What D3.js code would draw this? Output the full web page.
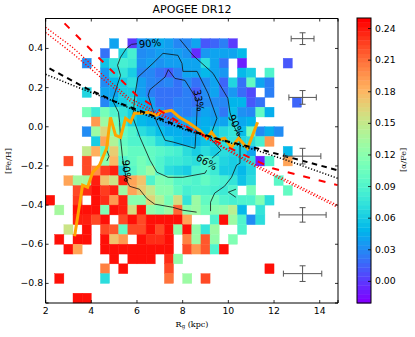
<!DOCTYPE html>
<html lang="en">

<head>
  <meta charset="UTF-8" />
  <title>APOGEE DR12</title>
  <script src="https://d3js.org/d3.v7.min.js"></script>
  <style>
    html, body { margin: 0; background: #fff; }
    svg { display: block; }
    text { font-family: "DejaVu Sans", sans-serif; fill: #000; }
    .serif { font-family: "DejaVu Serif", "Liberation Serif", serif; }
  </style>
</head>

<body>
  <svg id="chart" width="415" height="337"></svg>

  <script>
    const _ = null;
    // mean [a/Fe] per bin, one list per [Fe/H] row, index = R bin from 2 kpc in 0.4 steps
    const r040 = [_,_,_,_,_,_,_,.04,_,0,.033,.038,.043,.038,.028,.028,.04,.01,.015,.025,0];
    const r035 = [_,_,_,_,_,_,.02,_,.065,.085,.03,.033,.038,.038,.038,.033,-.005,.035,.04,.04,.04,.05];
    const r030 = [_,_,_,_,.03,_,.055,.075,.085,.08,.033,.038,.033,.038,.038,.04,.04,.07,.04,.02,_,-.01,_,_,_,_,.01];
    const r025 = [_,_,_,_,_,_,.035,.065,.075,.06,.028,.028,.02,.012,.025,.04,.04,.05,.04,.035,_,.05,.06,_,.09];
    const r020 = [_,_,_,_,_,_,.03,.05,.06,.07,.038,.028,.025,.028,.02,.03,.02,.03,.04,.015,.065,.02,.10,.04,.025];
    const r015 = [_,_,_,_,.065,_,.04,.04,.06,.06,.038,.025,.02,.02,.02,.025,.012,.03,.04,.02,.035,.018,.005,_,.025];
    const r010 = [_,_,_,_,_,_,.028,.05,.06,.07,.048,.038,.02,.02,.025,.025,.02,.03,.03,.028,.048,.048,.01,.02,_,_,_,.015];
    const r005 = [_,_,_,_,.11,.08,.11,.09,.075,.062,.05,.04,.033,.02,.028,.025,.03,.04,.035,.022,.052,.032,.028,.10,.045];
    const r000 = [_,_,_,_,_,.195,.13,.11,.08,.062,.05,.045,.04,.033,.038,.04,.04,.045,.04,.04,.062,.042,.048];
    const rm005 = [_,_,_,_,.03,.13,.165,.12,.10,.09,.07,.062,.052,.045,.045,.04,.04,.048,.058,.068,.075,.052,.11,.03,.045,.03];
    const rm010 = [_,_,_,_,_,.06,.19,.14,.10,.09,.09,.085,.068,.06,.05,.045,.045,.055,.06,.07,.075,.065,.07,.085,.195];
    const rm015 = [_,_,_,_,.15,.185,.10,.17,.11,.10,.10,.10,.095,.09,.085,.07,.06,.07,.06,.07,.065,.06,.04,_,_,_,.05];
    const rm020 = [_,_,.225,_,.225,_,.12,.18,.09,.10,.11,.10,.09,.08,.08,.075,.07,.09,.08,.065,.06,.06,.07,-.01,.09,_,.19];
    const rm025 = [_,_,_,_,.225,.20,.23,.24,.065,.095,.11,.13,.09,.07,.065,.06,.085,.09,.08,.06,.06,.05,.065];
    const rm030 = [_,_,.19,.135,.135,.24,.175,.155,.24,.19,.175,.09,.115,.11,.095,.095,.09,.10,.09,.085,.075,.055,.07,_,_,.095];
    const rm035 = [_,_,_,.225,.235,.245,.23,.24,.13,.19,.17,.15,.12,.12,.10,.085,.09,.09,.085,.08,.09,_,.11,_,_,_,.10];
    const rm040 = [.245,_,_,.23,_,.245,.235,.195,.24,.12,.12,.165,.14,.11,.16,.075,.13,.10,.105,.09,.085,.09,.09,.115,.07];
    const rm045 = [_,.135,_,.245,.245,.245,.115,.245,.24,.16,.245,.125,.115,.13,.215,.12,.13,.11,.12,.125,.145,.05,_,.075];
    const rm050 = [_,_,_,.24,.24,.225,.245,_,.225,.245,.225,.245,.245,.245,.245,.19,_,_,.09,.245,.13,.09,.03,.07];
    const rm055 = [_,_,.155,_,.245,_,.225,.22,.10,.225,.225,.245,.225,.245,.125,.245,.125,.075,.13,_,_,.09];
    const rm060 = [_,.245,_,.245,.245,_,.245,.175,.195,_,.245,.235,.235,.245,_,.205,.13,.22,.125,_,.115];
    const rm065 = [_,_,.245,.19,_,_,.245,.245,.245,.245,.245,.245,.245,.245,_,.225,.195,.22,.09,.245];
    const rm070 = [_,_,_,_,_,_,_,.245,_,.245,.245,.245,_,.235,.125];
    const rm075 = [_,_,_,_,_,_,.205,_,.245,_,_,_,_,.225,_,_,_,_,_,_,_,_,_,_,.245];
    const rm080 = [_,.245,_,_,_,_,.07,_,_,_,_,_,_,.21,_,.13,_,.225];
    const rm090 = [_,_,_,.245,.245];
    const rowLows = [.40,.35,.30,.25,.20,.15,.10,.05,0,-.05,-.10,-.15,-.20,-.25,-.30,-.35,-.40,-.45,-.50,-.55,-.60,-.65,-.70,-.75,-.80,-.90];
    const rowValues = [r040,r035,r030,r025,r020,r015,r010,r005,r000,rm005,rm010,rm015,rm020,rm025,rm030,rm035,rm040,rm045,rm050,rm055,rm060,rm065,rm070,rm075,rm080,rm090];

    // running median
    const medianLine = [[3.27,-.559],[3.62,-.298],[3.84,-.309],[4.06,-.232],[4.36,-.196],[4.45,-.171],[4.67,-.110],[4.84,.048],[5.06,-.043],[5.28,-.054],[5.50,.043],[5.72,.023],[5.89,.069],[6.20,.069],[6.46,.074],[6.86,.059],[7.08,.074],[7.51,.084],[7.86,.048],[8.30,.018],[8.74,-.018],[9.05,-.059],[9.26,-.028],[9.53,-.069],[9.83,-.059],[10.14,-.105],[10.45,-.059],[10.84,-.110],[11.28,.023]];

    // gradients
    const redDashed = [[2.83,.528],[4.36,.349],[5.98,.161],[6.99,.084],[8.30,-.008],[10.71,-.145],[11.93,-.212],[14.78,-.298]];
    const redDotted1 = [[2,.508],[3.18,.406],[4.67,.247],[5.68,.145],[8.30,-.008],[11.23,-.196],[14.78,-.401]];
    const redDotted2 = [[2,.482],[3.18,.375],[4.67,.227],[5.81,.120],[8.30,-.008],[11.23,-.206],[14.78,-.411]];
    const blackDashed = [[2.17,.298],[3.79,.196],[5.02,.130],[6.42,.069],[8.30,-.018],[9.75,-.069],[11.23,-.110],[12.68,-.156],[14.78,-.222]];
    const blackDotted = [[2,.268],[3.18,.212],[4.67,.145],[6.42,.059],[8.30,-.023],[11.23,-.120],[12.68,-.176],[14.78,-.263]];

    // density contours
    const contour90a = [[6.0,.424],[5.76,.421],[5.54,.401],[5.28,.355],[5.15,.314],[5.28,.263],[5.11,.202],[4.93,.135],[5.19,.074],[5.24,.023],[5.28,-.059],[5.37,-.161],[5.54,-.273],[5.68,-.304],[6.11,-.319],[6.42,-.365],[6.77,-.395],[7.56,-.411],[8.0,-.426],[8.61,-.436]];
    const contour90b = [[7.88,.446],[8.45,.365],[9.33,.273],[9.98,.145],[10.07,.074],[10.27,-.003],[10.51,-.054],[10.51,-.186],[10.36,-.196],[10.14,-.258],[9.83,-.304],[9.40,-.339],[9.22,-.385],[9.22,-.431]];
    const contour90c = [[10.33,-.319],[10.0,-.334],[10.33,-.360]];
    const contour90d = [[4.55,-.135],[4.68,-.120],[4.78,-.150],[4.68,-.175]];
    const contour66a = [[9.28,-.161],[9.68,-.120],[9.19,-.054],[9.50,.043],[9.11,.171],[8.63,.283],[8.01,.283],[7.97,.324],[7.79,.365],[7.14,.375],[6.70,.324],[6.04,.253],[5.91,.161],[5.82,.048],[6.13,-.054],[6.57,-.171],[6.87,-.232],[7.36,-.258],[8.01,-.258],[8.98,-.237],[9.05,-.222]];
    const contour33a = [[7.37,.292],[7.23,.254],[6.57,.190],[6.49,.161],[6.86,.024],[7.23,-.069],[7.58,-.078],[8.54,-.110],[8.61,.033],[8.65,.135],[8.10,.237],[7.66,.247],[7.37,.292]];

    const contourLabels = [["90%",6.57,.426,-5],["33%",8.71,.135,80],["90%",10.33,.008,65],["66%",9.05,-.18,30],["90%",5.55,-.225,85]];

    // binned error bars
    const errR = [13.25,13.25,13.25,13.25,13.25];
    const errFe = [.45,.15,-.15,-.45,-.75];
    const errDR = [.5,.6,.8,1.03,.84];
    const errDFe = [.03,.035,.04,.037,.04];

    const xTicks = [2,4,6,8,10,12,14];
    const yTicks = [-.8,-.6,-.4,-.2,0,.2,.4];
    const colorTicks = [0,.03,.06,.09,.12,.15,.18,.21,.24];

    const binWidth = 0.4, binHeight = 0.05;
    const plotLeft = 45.6, plotRight = 338, plotTop = 18.5, plotBottom = 303;

    const svg = d3.select("#chart");
    const x = d3.scaleLinear().domain([2, 14.8]).range([plotLeft, plotRight]);
    const y = d3.scaleLinear().domain([-.9, .553]).range([plotBottom, plotTop]);

    // matplotlib rainbow
    const rainbow = t => `rgb(${Math.round(255 * Math.abs(2 * t - .5))},${Math.round(255 * Math.sin(Math.PI * t))},${Math.round(255 * Math.cos(Math.PI * t / 2))})`;
    const colorNorm = d3.scaleLinear().domain([-.02, .25]).range([0, 1]).clamp(true);
    const color = v => rainbow(colorNorm(v));

    const cells = [];
    rowValues.forEach((row, j) => row.forEach((v, i) => {
      if (v !== null) cells.push({ r: 2 + i * binWidth, fe: rowLows[j], v });
    }));

    svg.append("g").selectAll("rect").data(cells).enter().append("rect")
      .attr("x", d => x(d.r))
      .attr("y", d => y(d.fe + binHeight))
      .attr("width", d => x(d.r + binWidth) - x(d.r))
      .attr("height", d => y(d.fe) - y(d.fe + binHeight))
      .attr("fill", d => color(d.v))
      .attr("stroke", d => color(d.v))
      .attr("stroke-width", .4);

    const line = d3.line().x(d => x(d[0])).y(d => y(d[1]));
    const plot = svg.append("g");

    function addLine(data, stroke, width, dash) {
      plot.append("path").attr("d", line(data))
        .attr("fill", "none").attr("stroke", stroke)
        .attr("stroke-width", width).attr("stroke-dasharray", dash || null);
    }

    [contour90a, contour90b, contour90c, contour90d, contour66a, contour33a].forEach(c => addLine(c, "#111", .8));
    addLine(medianLine, "#ffa500", 3);
    addLine(redDashed, "#ff0000", 2, "7,9");
    addLine(redDotted1, "#ff0000", 1.3, "1.2,1.8");
    addLine(redDotted2, "#ff0000", 1.3, "1.2,1.8");
    addLine(blackDashed, "#000", 2, "5.5,4.5");
    addLine(blackDotted, "#000", 1.5, "1.2,1.8");

    contourLabels.forEach(d => {
      plot.append("text")
        .attr("transform", `translate(${x(d[1])},${y(d[2])}) rotate(${d[3]})`)
        .attr("text-anchor", "middle").attr("dy", "0.35em")
        .attr("font-size", 10).attr("fill", "#111").text(d[0]);
    });

    // error bars
    const capX = 3, capY = 3;
    errR.forEach((r, i) => {
      const g = plot.append("g").attr("stroke", "#555").attr("stroke-width", 1).attr("fill", "none");
      const x0 = x(r - errDR[i]), x1 = x(r + errDR[i]), y0 = y(errFe[i] - errDFe[i]), y1 = y(errFe[i] + errDFe[i]);
      g.append("line").attr("x1", x0).attr("x2", x1).attr("y1", y(errFe[i])).attr("y2", y(errFe[i]));
      g.append("line").attr("x1", x(r)).attr("x2", x(r)).attr("y1", y0).attr("y2", y1);
      [x0, x1].forEach(px => g.append("line").attr("x1", px).attr("x2", px).attr("y1", y(errFe[i]) - capY).attr("y2", y(errFe[i]) + capY));
      [y0, y1].forEach(py => g.append("line").attr("x1", x(r) - capX).attr("x2", x(r) + capX).attr("y1", py).attr("y2", py));
    });

    // axes
    function styleAxis(g) {
      g.select(".domain").attr("stroke", "#000").attr("stroke-width", 1);
      g.selectAll(".tick line").attr("stroke", "#000").attr("stroke-width", .8);
      g.selectAll("text").attr("font-size", 9.3).attr("font-family", "DejaVu Sans");
    }
    const minusFmt = d => d3.format(".1f")(d).replace("-", "\u2212");

    svg.append("g").attr("transform", `translate(0,${plotBottom})`)
      .call(d3.axisBottom(x).offset(0).tickValues(xTicks).tickSize(-3).tickPadding(4).tickFormat(d3.format("d"))).call(styleAxis);
    svg.append("g").attr("transform", `translate(0,${plotTop})`)
      .call(d3.axisTop(x).offset(0).tickValues(xTicks).tickSize(-3).tickFormat("")).call(styleAxis);
    svg.append("g").attr("transform", `translate(${plotLeft},0)`)
      .call(d3.axisLeft(y).offset(0).tickValues(yTicks).tickSize(-3).tickPadding(2.5).tickFormat(minusFmt)).call(styleAxis);
    svg.append("g").attr("transform", `translate(${plotRight},0)`)
      .call(d3.axisRight(y).offset(0).tickValues(yTicks).tickSize(-3).tickFormat("")).call(styleAxis);

    svg.append("text").attr("x", 192).attr("y", 12.5).attr("text-anchor", "middle").attr("font-size", 11).text("APOGEE DR12");

    const xLabel = svg.append("text").attr("class", "serif").attr("x", 192).attr("y", 326.5).attr("text-anchor", "middle").attr("font-size", 8);
    xLabel.append("tspan").text("R");
    xLabel.append("tspan").attr("font-size", 5.5).attr("dy", 1.5).text("g");
    xLabel.append("tspan").attr("dy", -1.5).text(" (kpc)");

    svg.append("text").attr("class", "serif").attr("transform", `translate(10.5,161) rotate(-90)`)
      .attr("text-anchor", "middle").attr("font-size", 8).text("[Fe/H]");

    // colorbar
    const cbLeft = 357, cbRight = 371;
    const c = d3.scaleLinear().domain([-.0205, .25]).range([303, 18]);
    const levels = d3.range(0, 64);
    const levelH = (c.range()[0] - c.range()[1]) / levels.length;
    svg.append("g").selectAll("rect").data(levels).enter().append("rect")
      .attr("x", cbLeft).attr("width", cbRight - cbLeft)
      .attr("y", d => c.range()[0] - (d + 1) * levelH)
      .attr("height", levelH + .4)
      .attr("fill", d => rainbow(d / (levels.length - 1)));
    svg.append("g").attr("transform", `translate(${cbRight},0)`)
      .call(d3.axisRight(c).offset(0).tickValues(colorTicks).tickSize(-3).tickPadding(4).tickFormat(d3.format(".2f")))
      .call(g => g.select(".domain").remove())
      .call(styleAxis);
    svg.append("rect").attr("x", cbLeft).attr("y", 18).attr("width", cbRight - cbLeft).attr("height", 285)
      .attr("fill", "none").attr("stroke", "#000").attr("stroke-width", 1);

    svg.append("text").attr("class", "serif").attr("transform", "translate(406,160) rotate(-90)")
      .attr("text-anchor", "middle").attr("font-size", 8).text("[\u03b1/Fe]");
  </script>
</body>

</html>
